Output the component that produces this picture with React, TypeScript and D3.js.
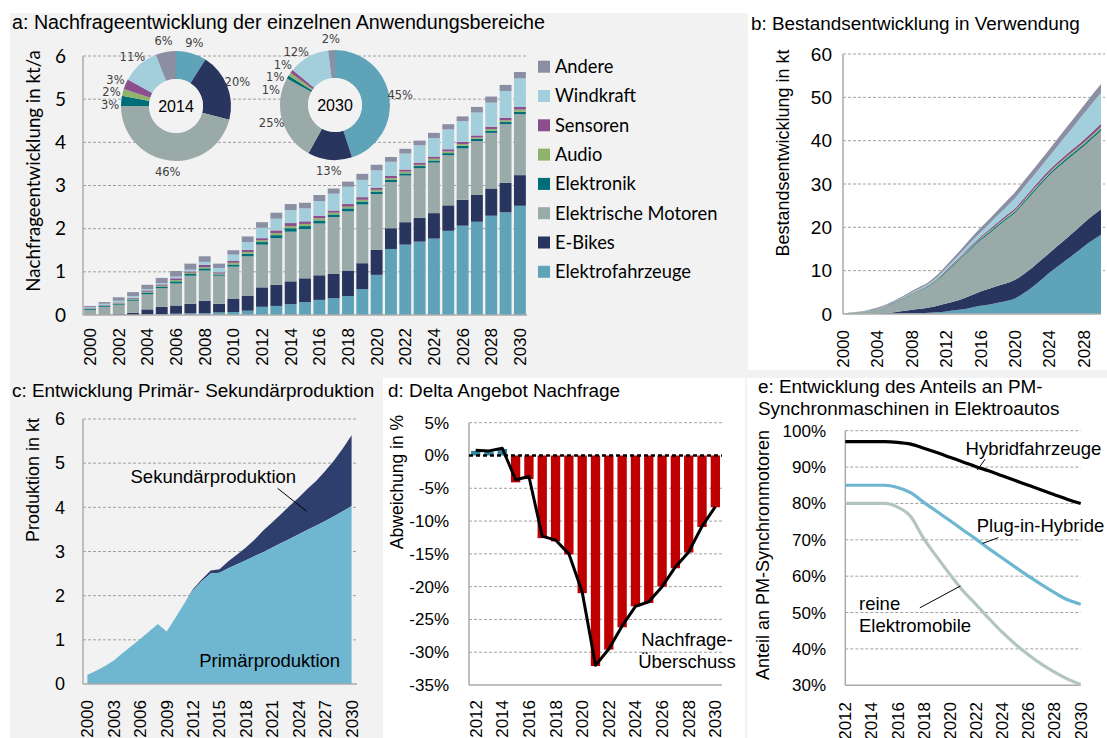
import React, { useEffect, useRef } from 'react'
import * as d3 from 'd3'

// ---------- a: Nachfrage nach Anwendungsbereich (kt/a) ----------
const years = d3.range(2000, 2031)
const elektrofahrzeuge = [0, 0, 0, 0, 0.01, 0.02, 0.03, 0.04, 0.04, 0.06, 0.07, 0.10, 0.19, 0.21, 0.25, 0.30, 0.35, 0.39, 0.44, 0.60, 0.93, 1.53, 1.63, 1.70, 1.77, 1.95, 2.07, 2.16, 2.30, 2.38, 2.53]
const eBikes = [0, 0.01, 0.02, 0.05, 0.12, 0.17, 0.19, 0.22, 0.29, 0.20, 0.31, 0.35, 0.45, 0.49, 0.53, 0.55, 0.57, 0.56, 0.59, 0.60, 0.58, 0.48, 0.52, 0.55, 0.59, 0.59, 0.60, 0.62, 0.63, 0.68, 0.71]
const motoren = [0.12, 0.18, 0.21, 0.28, 0.35, 0.43, 0.51, 0.65, 0.70, 0.65, 0.74, 0.91, 0.99, 1.08, 1.15, 1.14, 1.20, 1.32, 1.37, 1.36, 1.29, 1.07, 1.08, 1.15, 1.17, 1.16, 1.19, 1.25, 1.29, 1.36, 1.41]
const elektronik = [0.02, 0.02, 0.02, 0.03, 0.04, 0.04, 0.05, 0.04, 0.05, 0.03, 0.05, 0.06, 0.06, 0.07, 0.08, 0.07, 0.07, 0.06, 0.07, 0.07, 0.06, 0.05, 0.05, 0.05, 0.05, 0.05, 0.06, 0.05, 0.05, 0.05, 0.06]
const audio = [0.01, 0.01, 0.02, 0.02, 0.02, 0.02, 0.03, 0.03, 0.03, 0.02, 0.04, 0.04, 0.04, 0.05, 0.05, 0.05, 0.05, 0.04, 0.04, 0.04, 0.04, 0.04, 0.04, 0.03, 0.04, 0.04, 0.04, 0.03, 0.04, 0.04, 0.05]
const sensoren = [0.01, 0.01, 0.02, 0.02, 0.03, 0.03, 0.04, 0.03, 0.05, 0.03, 0.05, 0.05, 0.05, 0.06, 0.07, 0.06, 0.06, 0.05, 0.06, 0.06, 0.05, 0.05, 0.05, 0.05, 0.05, 0.05, 0.05, 0.05, 0.05, 0.06, 0.06]
const windkraft = [0.02, 0.03, 0.04, 0.04, 0.03, 0.03, 0.04, 0.04, 0.07, 0.10, 0.14, 0.18, 0.24, 0.27, 0.30, 0.30, 0.34, 0.39, 0.40, 0.40, 0.40, 0.33, 0.37, 0.40, 0.43, 0.46, 0.48, 0.53, 0.56, 0.62, 0.66]
const andere = [0.03, 0.04, 0.08, 0.09, 0.10, 0.12, 0.13, 0.14, 0.13, 0.10, 0.10, 0.13, 0.13, 0.14, 0.14, 0.13, 0.14, 0.12, 0.12, 0.14, 0.13, 0.11, 0.11, 0.11, 0.12, 0.12, 0.11, 0.13, 0.14, 0.14, 0.15]

const seriesNames = ['Elektrofahrzeuge', 'E-Bikes', 'Elektrische Motoren', 'Elektronik', 'Audio', 'Sensoren', 'Windkraft', 'Andere']
const seriesColors = ['#5fa3b9', '#28365f', '#9aaaa9', '#006e78', '#8fb36d', '#8b4f8d', '#a3cfdd', '#8b8fa4']
const demand = [elektrofahrzeuge, eBikes, motoren, elektronik, audio, sensoren, windkraft, andere]

// pie shares in %
const share2014 = [9, 20, 46, 3, 2, 3, 11, 6]
const share2030 = [45, 13, 25, 1, 1, 1, 12, 2]

// ---------- b: Bestand in Verwendung (kt) ----------
const bestandEF = [0, 0, 0, 0, 0.02, 0.05, 0.08, 0.12, 0.17, 0.22, 0.3, 0.4, 0.6, 0.85, 1.1, 1.5, 1.9, 2.2, 2.6, 3.0, 3.6, 4.8, 6.2, 7.8, 9.5, 11.0, 12.5, 14.0, 15.6, 17.0, 18.3]
const bestandEB = [0, 0, 0.02, 0.05, 0.1, 0.2, 0.35, 0.55, 0.8, 1.0, 1.2, 1.5, 1.8, 2.1, 2.5, 2.9, 3.3, 3.6, 3.9, 4.1, 4.3, 4.4, 4.5, 4.6, 4.6, 4.8, 5.0, 5.2, 5.4, 5.7, 5.9]
const bestandM = [0.1, 0.25, 0.43, 0.7, 1.08, 1.55, 2.17, 2.83, 3.53, 4.18, 4.9, 5.9, 7.2, 8.45, 9.7, 10.8, 11.8, 12.8, 13.7, 14.7, 15.4, 16.3, 17.0, 17.5, 17.9, 18.0, 18.0, 17.9, 17.7, 17.8, 18.1]
const bestandElektronik = [0, 0.01, 0.02, 0.03, 0.05, 0.07, 0.09, 0.11, 0.13, 0.15, 0.17, 0.19, 0.21, 0.23, 0.25, 0.27, 0.29, 0.31, 0.33, 0.35, 0.37, 0.38, 0.39, 0.40, 0.41, 0.42, 0.43, 0.44, 0.45, 0.46, 0.47]
const bestandAudio = [0, 0.01, 0.01, 0.02, 0.03, 0.04, 0.05, 0.06, 0.08, 0.09, 0.1, 0.12, 0.14, 0.16, 0.17, 0.19, 0.21, 0.22, 0.24, 0.25, 0.27, 0.28, 0.29, 0.3, 0.31, 0.32, 0.33, 0.34, 0.35, 0.36, 0.37]
const bestandSensoren = [0, 0.01, 0.02, 0.03, 0.04, 0.05, 0.07, 0.09, 0.11, 0.13, 0.15, 0.18, 0.21, 0.24, 0.27, 0.3, 0.33, 0.36, 0.39, 0.42, 0.45, 0.48, 0.51, 0.54, 0.57, 0.6, 0.63, 0.66, 0.69, 0.72, 0.75]
const bestandWind = [0, 0, 0.01, 0.02, 0.03, 0.05, 0.07, 0.1, 0.13, 0.16, 0.2, 0.3, 0.45, 0.6, 0.75, 0.9, 1.05, 1.3, 1.6, 1.9, 2.3, 2.5, 2.6, 2.8, 3.1, 3.7, 4.4, 5.2, 6.0, 6.6, 7.1]
const bestandAndere = [0.02, 0.05, 0.08, 0.12, 0.16, 0.2, 0.25, 0.3, 0.35, 0.4, 0.45, 0.52, 0.6, 0.7, 0.8, 0.9, 1.0, 1.1, 1.2, 1.3, 1.4, 1.5, 1.55, 1.6, 1.65, 1.7, 1.8, 1.85, 1.9, 2.0, 2.1]
const bestand = [bestandEF, bestandEB, bestandM, bestandElektronik, bestandAudio, bestandSensoren, bestandWind, bestandAndere]

// ---------- c: Primär- / Sekundärproduktion (kt) ----------
const primaer = [0.21, 0.30, 0.41, 0.53, 0.70, 0.86, 1.02, 1.19, 1.36, 1.19, 1.50, 1.82, 2.12, 2.33, 2.50, 2.52, 2.62, 2.71, 2.80, 2.90, 2.99, 3.09, 3.19, 3.29, 3.39, 3.49, 3.59, 3.69, 3.80, 3.91, 4.03]
const sekundaer = [0, 0, 0, 0, 0, 0, 0, 0, 0, 0, 0, 0, 0.03, 0.04, 0.07, 0.08, 0.16, 0.22, 0.29, 0.37, 0.49, 0.57, 0.66, 0.75, 0.83, 0.93, 1.01, 1.13, 1.26, 1.42, 1.60]

// ---------- d: Delta Angebot / Nachfrage (%) ----------
const deltaYears = d3.range(2012, 2031)
const deltaBars = [0.7, 0.6, 1.0, -4.1, -3.6, -12.6, -13.1, -15.1, -21, -32.1, -29.6, -26.2, -23, -22.5, -20, -17.2, -14.8, -10.9, -7.9]
const deltaLine = [0.8, 0.7, 1.1, -3.7, -3.2, -12.3, -12.9, -15, -20.8, -32, -29.5, -26, -23, -22.3, -20, -17, -14.7, -10.8, -7.8]

// ---------- e: Anteil PM-Synchronmotoren (%) ----------
const shareYears = d3.range(2012, 2031)
const hybrid = [97, 97, 97, 97, 96.8, 96.3, 95.2, 94.0, 92.7, 91.4, 90.1, 88.9, 87.6, 86.3, 85.0, 83.7, 82.4, 81.1, 80.0]
const pluginHybrid = [85, 85, 85, 85, 84.4, 83, 80.3, 77.8, 75.3, 72.7, 70.2, 67.5, 65, 62.5, 60, 57.7, 55.5, 53.5, 52.3]
const reineEV = [80, 80, 80, 80, 79, 76.4, 70.3, 65.3, 60.5, 56, 52.2, 48.3, 44.6, 41.3, 38.4, 35.8, 33.6, 31.7, 30.2]

const ARIAL = '"Liberation Sans", Arial, sans-serif'
const CALIBRI = 'Lato, "Open Sans", sans-serif'
const BG = '#f2f2f2'
const GRID = '#a0a0a0'
const AXIS = '#ababab'
const TITLE = 18.9

type Sel = d3.Selection<any, any, any, any>

function label(g: Sel, x: number, y: number, s: string, size = 18.5, anchor = 'start', font = ARIAL) {
  return g.append('text').attr('x', x).attr('y', y).attr('font-family', font)
    .attr('font-size', size).attr('text-anchor', anchor).attr('fill', '#000').text(s)
}

function grid(g: Sel, y: d3.ScaleLinear<number, number>, vals: number[], x1: number, x2: number) {
  g.append('g').selectAll('line').data(vals).join('line')
    .attr('x1', x1).attr('x2', x2).attr('y1', d => y(d)).attr('y2', d => y(d))
    .attr('stroke', GRID).attr('stroke-width', 1).attr('stroke-dasharray', '3,2')
}

function frame(g: Sel, x0: number, x1: number, yTop: number, yBot: number) {
  g.append('line').attr('x1', x0).attr('x2', x0).attr('y1', yTop).attr('y2', yBot).attr('stroke', AXIS).attr('stroke-width', 1.5)
  g.append('line').attr('x1', x0).attr('x2', x1).attr('y1', yBot).attr('y2', yBot).attr('stroke', AXIS).attr('stroke-width', 1.5)
}

function yTicks(g: Sel, y: d3.ScaleLinear<number, number>, vals: number[], xEnd: number, fmt: (v: number) => string, size = 17, font = ARIAL) {
  g.append('g').selectAll('text').data(vals).join('text')
    .attr('x', xEnd).attr('y', d => y(d)).attr('dy', '0.35em')
    .attr('text-anchor', 'end').attr('font-family', font).attr('font-size', size).attr('fill', '#000')
    .text(fmt)
}

function xTicks(g: Sel, vals: number[], xPos: (v: number) => number, yTop: number, size = 17) {
  g.append('g').selectAll('text').data(vals).join('text')
    .attr('transform', d => `translate(${xPos(d)},${yTop}) rotate(-90)`)
    .attr('dy', '0.35em').attr('text-anchor', 'end')
    .attr('font-family', ARIAL).attr('font-size', size).attr('fill', '#000')
    .text(d => String(d))
}

function yTitle(g: Sel, cx: number, cy: number, s: string, size = 18, font = ARIAL) {
  g.append('text').attr('transform', `translate(${cx},${cy}) rotate(-90)`)
    .attr('dy', '0.35em').attr('text-anchor', 'middle')
    .attr('font-family', font).attr('font-size', size).attr('fill', '#000').text(s)
}

function drawPie(g: Sel, shares: number[], cx: number, cy: number, yearLabel: string) {
  const pg = g.append('g').attr('transform', `translate(${cx},${cy})`)
  const arcs = d3.pie<number>().sort(null).value(d => d)(shares)
  const arc = d3.arc<d3.PieArcDatum<number>>().innerRadius(27).outerRadius(55)
  pg.selectAll('path').data(arcs).join('path').attr('d', arc).attr('fill', (_, i) => seriesColors[i])
  pg.append('circle').attr('r', 27).attr('fill', BG)
  label(pg, 0, 0, yearLabel, 16, 'middle').attr('dy', '0.35em')
  // label placement: centroid angle at radius R, then spread left-side labels downward
  const R = 66
  const pos = arcs.map(a => {
    const ang = (a.startAngle + a.endAngle) / 2
    return { x: R * Math.sin(ang), y: -R * Math.cos(ang), t: `${a.data}%` }
  })
  const left = pos.filter(p => p.x < 0).sort((a, b) => a.y - b.y)
  for (let i = 1; i < left.length; i++) {
    if (left[i].y < left[i - 1].y + 12.5) {
      left[i].y = left[i - 1].y + 12.5
      left[i].x = -Math.sqrt(Math.max(0, R * R - left[i].y * left[i].y))
    }
  }
  pg.append('g').selectAll('text').data(pos).join('text')
    .attr('x', d => d.x).attr('y', d => d.y).attr('dy', '0.35em').attr('text-anchor', 'middle')
    .attr('font-family', '"DejaVu Sans", Verdana, sans-serif').attr('font-size', 11.5).attr('fill', '#404040')
    .text(d => d.t)
}

function panelA(svg: Sel) {
  const g = svg.append('g')
  const x = d3.scaleBand<number>().domain(years).range([83, 527]).paddingInner(0.17).paddingOuter(0.08)
  const y = d3.scaleLinear().domain([0, 6]).range([315, 56])
  grid(g, y, [1, 2, 3, 4, 5, 6], 83, 527)

  const table = years.map((yr, i) => {
    const row: Record<string, number> = { year: yr }
    seriesNames.forEach((k, j) => { row[k] = demand[j][i] })
    return row
  })
  const stacked = d3.stack<Record<string, number>>().keys(seriesNames)(table)
  g.append('g').selectAll('g').data(stacked).join('g').attr('fill', (_, i) => seriesColors[i])
    .selectAll('rect').data(d => d).join('rect')
    .attr('x', d => x(d.data.year) as number).attr('width', x.bandwidth())
    .attr('y', d => y(d[1])).attr('height', d => Math.max(0, y(d[0]) - y(d[1])))

  frame(g, 83, 527, 56, 315)
  yTicks(g, y, [0, 1, 2, 3, 4, 5, 6], 66, d => String(d), 19, CALIBRI)
  xTicks(g, years.filter(d => d % 2 === 0), d => (x(d) as number) + x.bandwidth() / 2, 328)
  yTitle(g, 33, 171, 'Nachfrageentwicklung in kt/a', 18.7, CALIBRI)
  label(g, 12, 29, 'a: Nachfrageentwicklung der einzelnen Anwendungsbereiche', 19.7)

  drawPie(g, share2014, 176, 106, '2014')
  drawPie(g, share2030, 335, 105, '2030')

  // legend (top = last series)
  const items = seriesNames.map((n, i) => ({ n, c: seriesColors[i] })).reverse()
  const lg = g.append('g').selectAll('g').data(items).join('g')
    .attr('transform', (_, i) => `translate(538,${66.7 + i * 29.3})`)
  lg.append('rect').attr('x', 0).attr('y', -6).attr('width', 12).attr('height', 12).attr('fill', d => d.c)
  lg.append('text').attr('x', 17).attr('dy', '0.35em').attr('font-family', CALIBRI).attr('font-size', 18.3)
    .attr('fill', '#000').text(d => d.n)
}

function panelB(svg: Sel) {
  const g = svg.append('g')
  const x = d3.scaleLinear().domain([2000, 2030]).range([843, 1101])
  const y = d3.scaleLinear().domain([0, 60]).range([314, 54])
  grid(g, y, [10, 20, 30, 40, 50, 60], 843, 1105)
  const table = years.map((yr, i) => {
    const row: Record<string, number> = { year: yr }
    seriesNames.forEach((k, j) => { row[k] = bestand[j][i] })
    return row
  })
  const stacked = d3.stack<Record<string, number>>().keys(seriesNames)(table)
  const area = d3.area<any>().x(d => x(d.data.year)).y0(d => y(d[0])).y1(d => y(d[1])).curve(d3.curveMonotoneX)
  g.append('g').selectAll('path').data(stacked).join('path')
    .attr('d', area).attr('fill', (_, i) => seriesColors[i])
  frame(g, 843, 1101, 54, 314)
  yTicks(g, y, [0, 10, 20, 30, 40, 50, 60], 832, d => String(d), 19)
  xTicks(g, d3.range(2000, 2030, 4), d => x(d), 330)
  yTitle(g, 783, 153, 'Bestandsentwicklung in kt')
  label(g, 751, 30, 'b: Bestandsentwicklung in Verwendung', TITLE)
}

function panelC(svg: Sel) {
  const g = svg.append('g')
  const xb = d3.scaleBand<number>().domain(years).range([83, 356])
  const xc = (yr: number) => (xb(yr) as number) + xb.bandwidth() / 2
  const xl = d3.scaleLinear().domain([2000, 2030]).range([xc(2000), xc(2030)])
  const y = d3.scaleLinear().domain([0, 6]).range([684, 419])
  grid(g, y, [1, 2, 3, 4, 5, 6], 83, 357)
  const rows = years.map((yr, i) => ({ yr, p: primaer[i], s: sekundaer[i] }))
  g.append('path').datum(rows)
    .attr('d', d3.area<any>().x(d => xc(d.yr)).y0(d => y(d.p)).y1(d => y(d.p + d.s)))
    .attr('fill', '#2e3f6e')
  g.append('path').datum(rows)
    .attr('d', d3.area<any>().x(d => xc(d.yr)).y0(y(0)).y1(d => y(d.p)))
    .attr('fill', '#6fb6d1')
  frame(g, 83, 357, 419, 684)
  yTicks(g, y, [0, 1, 2, 3, 4, 5, 6], 65, d => String(d), 18)
  xTicks(g, d3.range(2000, 2031, 3), xc, 700)
  yTitle(g, 33, 480, 'Produktion in kt')
  label(g, 12, 397, 'c: Entwicklung Primär- Sekundärproduktion', TITLE)
  label(g, xl(2014.3), y(4.55), 'Sekundärproduktion', 18.5, 'middle')
  g.append('line').attr('x1', xl(2021.6)).attr('y1', y(4.43)).attr('x2', xl(2024.9)).attr('y2', y(3.91))
    .attr('stroke', '#000').attr('stroke-width', 1)
  label(g, xl(2020.7), y(0.39), 'Primärproduktion', 18.5, 'middle')
}

function panelD(svg: Sel) {
  const g = svg.append('g')
  const x = d3.scaleBand<number>().domain(deltaYears).range([469, 722]).paddingInner(0.3).paddingOuter(0.15)
  const xc = (yr: number) => (x(yr) as number) + x.bandwidth() / 2
  const y = d3.scaleLinear().domain([-35, 5]).range([685, 422.7])
  grid(g, y, [5, -5, -10, -15, -20, -25, -30], 469, 722)
  const rows = deltaYears.map((yr, i) => ({ yr, v: deltaBars[i], l: deltaLine[i] }))
  g.append('g').selectAll('rect').data(rows).join('rect')
    .attr('x', d => x(d.yr) as number).attr('width', x.bandwidth())
    .attr('y', d => y(Math.max(0, d.v))).attr('height', d => Math.abs(y(d.v) - y(0)))
    .attr('fill', d => (d.v >= 0 ? '#31859c' : '#c00000'))
  frame(g, 469, 722, 422.7, 685)
  g.append('line').attr('x1', 469).attr('x2', 722).attr('y1', y(0)).attr('y2', y(0))
    .attr('stroke', '#000').attr('stroke-width', 2.5).attr('stroke-dasharray', '4,3')
  g.append('path').datum(rows)
    .attr('d', d3.line<any>().x(d => xc(d.yr)).y(d => y(d.l)))
    .attr('fill', 'none').attr('stroke', '#000').attr('stroke-width', 3).attr('stroke-linejoin', 'round')
  yTicks(g, y, [5, 0, -5, -10, -15, -20, -25, -30, -35], 449, d => `${d}%`)
  xTicks(g, deltaYears.filter(d => d % 2 === 0), xc, 700)
  yTitle(g, 397, 482, 'Abweichung in %', 17.5)
  label(g, 388, 397, 'd: Delta Angebot Nachfrage', TITLE)
  label(g, 687, y(-29.05), 'Nachfrage-', 18.5, 'middle')
  label(g, 687, y(-32.4), 'Überschuss', 18.5, 'middle')
}

function panelE(svg: Sel) {
  const g = svg.append('g')
  const x = d3.scaleLinear().domain([2012, 2030]).range([845.3, 1080.7])
  const y = d3.scaleLinear().domain([30, 100]).range([685.3, 430.7])
  grid(g, y, [40, 50, 60, 70, 80, 90, 100], 845.3, 1080.7)
  frame(g, 845.3, 1080.7, 430.7, 685.3)
  const series = [
    { v: hybrid, c: '#000000' },
    { v: pluginHybrid, c: '#6cb6d1' },
    { v: reineEV, c: '#b2c5c1' },
  ]
  const line = d3.line<number>().x((_, i) => x(shareYears[i])).y(d => y(d)).curve(d3.curveMonotoneX)
  g.append('g').selectAll('path').data(series.slice().reverse()).join('path')
    .attr('d', d => line(d.v)).attr('fill', 'none').attr('stroke', d => d.c).attr('stroke-width', 3.2)
  yTicks(g, y, [30, 40, 50, 60, 70, 80, 90, 100], 826, d => `${d}%`)
  xTicks(g, shareYears.filter(d => d % 2 === 0), d => x(d), 702)
  yTitle(g, 763, 555, 'Anteil an PM-Synchronmotoren')
  label(g, 758, 393, 'e: Entwicklung des Anteils an PM-', TITLE)
  label(g, 758, 415, 'Synchronmaschinen in Elektroautos', TITLE)

  const lead = (x1: number, y1: number, x2: number, y2: number) =>
    g.append('line').attr('x1', x(x1)).attr('y1', y(y1)).attr('x2', x(x2)).attr('y2', y(y2))
      .attr('stroke', '#000').attr('stroke-width', 1)
  label(g, x(2021.2), y(93.3), 'Hybridfahrzeuge')
  lead(2022.1, 89.2, 2022.7, 92.2)
  label(g, x(2022.05), y(72.1), 'Plug-in-Hybride')
  lead(2022.5, 69.0, 2023.7, 70.6)
  label(g, x(2013.05), y(50.7), 'reine')
  label(g, x(2013.05), y(44.7), 'Elektromobile')
  lead(2017.7, 51.3, 2020.8, 57.3)
}

export default function App() {
  const ref = useRef<SVGSVGElement>(null)
  useEffect(() => {
    const svg = d3.select(ref.current)
    svg.selectAll('*').remove()
    // panel backgrounds
    svg.append('rect').attr('x', 10).attr('y', 13).attr('width', 738).attr('height', 365).attr('fill', BG)
    svg.append('rect').attr('x', 748).attr('y', 370).attr('width', 359).attr('height', 8).attr('fill', BG)
    svg.append('rect').attr('x', 10).attr('y', 378).attr('width', 373).attr('height', 360).attr('fill', BG)
    svg.append('rect').attr('x', 745).attr('y', 378).attr('width', 2).attr('height', 360).attr('fill', BG)
    panelA(svg)
    panelB(svg)
    panelC(svg)
    panelD(svg)
    panelE(svg)
  }, [])
  return (
    <svg ref={ref} width={1107} height={738}
      style={{ position: 'absolute', left: 0, top: 0, background: '#fff' }} />
  )
}
